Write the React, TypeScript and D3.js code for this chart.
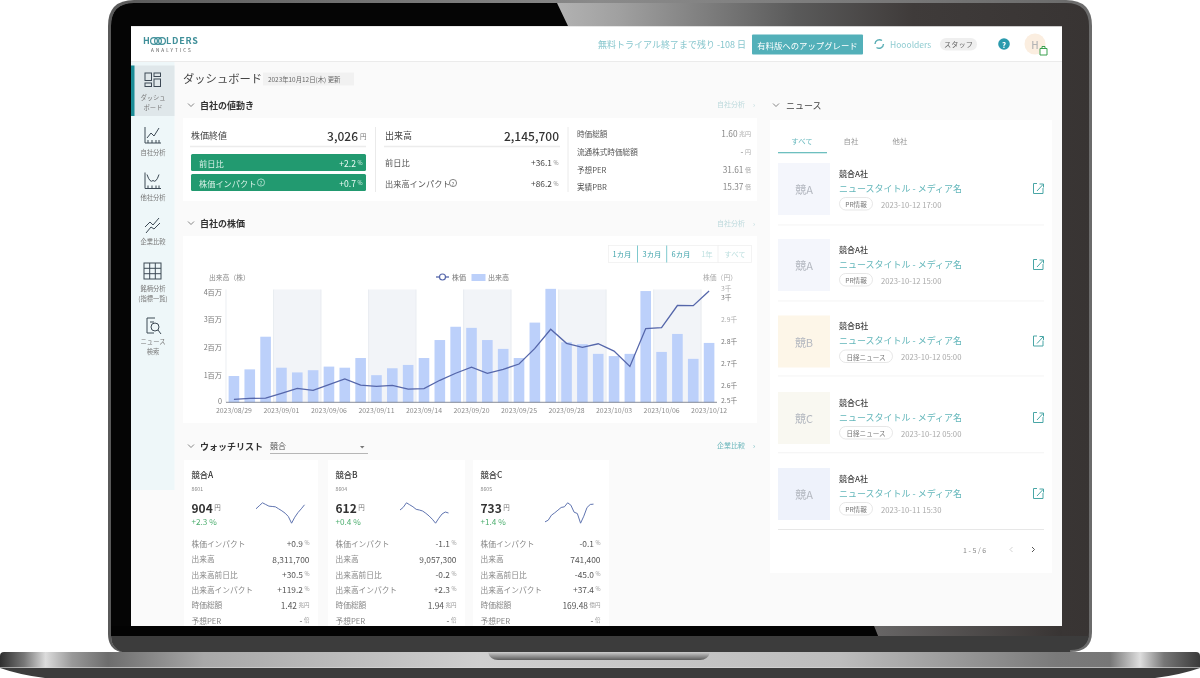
import React from "react";
import * as d3 from "d3";

const FONT = "'Noto Sans CJK JP','Noto Sans',sans-serif";

const dates = ["2023/08/29","2023/08/30","2023/08/31","2023/09/01","2023/09/04","2023/09/05","2023/09/06","2023/09/07","2023/09/08","2023/09/11","2023/09/12","2023/09/13","2023/09/14","2023/09/15","2023/09/19","2023/09/20","2023/09/21","2023/09/22","2023/09/25","2023/09/26","2023/09/27","2023/09/28","2023/09/29","2023/10/02","2023/10/03","2023/10/04","2023/10/05","2023/10/06","2023/10/10","2023/10/11","2023/10/12"];
const volumeM = [0.95,1.19,2.37,1.25,1.08,1.16,1.29,1.25,1.6,0.98,1.23,1.35,1.6,2.25,2.73,2.69,2.25,1.93,1.6,2.88,4.1,2.17,2.1,1.75,1.67,1.75,4.02,1.82,2.47,1.57,2.1457];
const priceK = [2.533,2.538,2.539,2.561,2.583,2.574,2.6,2.626,2.598,2.592,2.597,2.58,2.582,2.62,2.652,2.68,2.652,2.67,2.694,2.765,2.852,2.788,2.77,2.786,2.753,2.683,2.855,2.859,2.96,2.959,3.026];
const leftTicks = [0,1,2,3,4];
const leftTickLabels = ["0","1百万","2百万","3百万","4百万"];
const rightTicks = [2.52,2.6,2.7,2.8,2.9,3.0,3.035];
const rightTickLabels = ["2.5千","2.6千","2.7千","2.8千","2.9千","3千","3千"];
const rangeButtons = ["1カ月","3カ月","6カ月","1年","すべて"];

const quoteRows = [["時価総額","1.60","兆円"],["流通株式時価総額","-","円"],["予想PER","31.61","倍"],["実績PBR","15.37","倍"]];
const navItems = [["ダッシュ","ボード"],["自社分析"],["他社分析"],["企業比較"],["銘柄分析","(指標一覧)"],["ニュース","検索"]];

const cardNames = ["競合A","競合B","競合C"];
const cardCodes = ["8601","8604","8605"];
const cardPrices = ["904","612","733"];
const cardChanges = ["+2.3 %","+0.4 %","+1.4 %"];
const rowLabels = ["株価インパクト","出来高","出来高前日比","出来高インパクト","時価総額","予想PER"];
const cardRowsA = ["+0.9 %","8,311,700","+30.5 %","+119.2 %","1.42 兆円","- 倍"];
const cardRowsB = ["-1.1 %","9,057,300","-0.2 %","+2.3 %","1.94 兆円","- 倍"];
const cardRowsC = ["-0.1 %","741,400","-45.0 %","+37.4 %","169.48 億円","- 倍"];
const sparkA = [898,902.5,907,904.5,902,901.5,901,898,895,891.5,886.5,876.5,885.5,892.5,898,904];
const sparkB = [615,617.7,622.3,620.3,618.3,615.7,615,614,611.7,609,605.7,601.7,606.7,611,613,612];
const sparkC = [711.8,713.8,719.8,722.6,725.8,729,729.8,734.6,731.8,723.4,721.8,710.2,718.6,729,732.6,733];

const newsCompany = ["競合A社","競合A社","競合B社","競合C社","競合A社"];
const newsThumb = ["競A","競A","競B","競C","競A"];
const newsThumbFill = ["#f4f6fc","#f4f6fc","#fdf6e8","#f9f8f1","#eef2fb"];
const newsTag = ["PR情報","PR情報","日経ニュース","日経ニュース","PR情報"];
const newsDate = ["2023-10-12 17:00","2023-10-12 15:00","2023-10-12 05:00","2023-10-12 05:00","2023-10-11 15:30"];

const T = ({ x, y, s = 8, c = "#555", a = "start", w = 400, ls = 0, children }: any) => (
  <text x={x} y={y} fontSize={s} fill={c} textAnchor={a} fontWeight={w} letterSpacing={ls} dominantBaseline="central" fontFamily={FONT}>{children}</text>
);

const Chevron = ({ x, y }: any) => <path d={`M${x - 3} ${y - 1.5}L${x} ${y + 1.5}L${x + 3} ${y - 1.5}`} fill="none" stroke="#777" strokeWidth={0.9} />;
const HelpMark = ({ x, y, c }: any) => (
  <g><circle cx={x} cy={y} r={3.6} fill="none" stroke={c} strokeWidth={0.7} /><T x={x} y={y} s={5} c={c} a="middle">?</T></g>
);
const MoreLink = ({ y, c, children }: any) => (
  <g><T x={745} y={y} s={7} c={c} a="end">{children}</T><T x={755} y={y} s={7} c={c} a="end">›</T></g>
);

function StockChart() {
  const x = d3.scaleBand<string>().domain(dates).range([226, 717]).paddingInner(0.33).paddingOuter(0.165);
  const edge = (i: number) => 226 + i * (491 / dates.length);
  const yV = d3.scaleLinear().domain([0, 4.04]).range([402.3, 290.5]);
  const yP = d3.scaleLinear().domain([2.52, 3.0]).range([402.3, 296.7]);
  const cx = (d: string) => (x(d) as number) + x.bandwidth() / 2;
  const line = d3.line<number>().x((_, i) => cx(dates[i])).y((d) => yP(d));
  const labelIdx = d3.range(0, dates.length, 3);
  return (
    <g>
      {labelIdx.filter((i) => i % 6 === 3 && i < 30).map((i) => (
        <rect key={i} x={edge(i)} y={289.5} width={edge(i + 3) - edge(i)} height={112.8} fill="#f2f4f8" />
      ))}
      {labelIdx.map((i) => <line key={i} x1={edge(i)} x2={edge(i)} y1={289.5} y2={402.3} stroke="#e2e6ec" strokeWidth={0.7} />)}
      {dates.map((d, i) => (
        <rect key={d} x={x(d)} y={Math.max(288.8, yV(volumeM[i]))} width={x.bandwidth()} height={402.3 - Math.max(288.8, yV(volumeM[i]))} fill="#bcd0fa" />
      ))}
      <path d={line(priceK) as string} fill="none" stroke="#5566aa" strokeWidth={1.3} />
      <line x1={226} x2={717} y1={402.3} y2={402.3} stroke="#6b7280" strokeWidth={0.8} />
      {labelIdx.map((i) => <T key={i} x={cx(dates[i])} y={410} s={6.9} c="#8a8a8a" a="middle">{dates[i]}</T>)}
      {leftTicks.map((t, i) => <T key={t} x={222} y={i === 0 ? 401 : yV(t)} s={7.2} c="#777" a="end">{leftTickLabels[i]}</T>)}
      {rightTicks.map((t, i) => <T key={t} x={721} y={i === 0 ? 399.8 : i === 6 ? 287.8 : yP(t)} s={6.8} c={i === 6 || i === 4 ? "#aaa" : "#777"}>{rightTickLabels[i]}</T>)}
      <T x={209} y={276.5} s={6.8} c="#888">出来高（株）</T>
      <T x={703} y={276.5} s={6.8} c="#aaa">株価（円）</T>
      <line x1={436} x2={449} y1={277} y2={277} stroke="#5566aa" strokeWidth={1.3} />
      <circle cx={442.5} cy={277} r={3} fill="#fff" stroke="#5566aa" strokeWidth={1.2} />
      <T x={452} y={277} s={7} c="#777">株価</T>
      <rect x={471.5} y={274} width={14} height={7} fill="#bcd0fa" />
      <T x={488} y={277} s={7} c="#777">出来高</T>
    </g>
  );
}

function Spark({ data, x0, x1 }: any) {
  const x = d3.scaleLinear().domain([0, data.length - 1]).range([x0, x1]);
  const [lo, hi] = d3.extent(data as number[]) as [number, number];
  const y = d3.scaleLinear().domain([lo, hi]).range([523.2, 502.8]);
  const l = d3.line<number>().x((_, i) => x(i)).y((d) => y(d));
  return <path d={l(data) as string} fill="none" stroke="#5f74b0" strokeWidth={1} />;
}

function WatchCard({ i, x0, x1, rows, spark }: any) {
  const tx = x0 + 7.5;
  const rx = x1 - 8.5;
  const rowYs = [543, 558.5, 574, 589, 604.7, 620];
  const sx = x0 + 72;
  return (
    <g>
      <rect x={x0} y={460} width={x1 - x0} height={166} fill="#fff" />
      <T x={tx} y={474} s={8.3} c="#333" w={500}>{cardNames[i]}</T>
      <T x={tx} y={488} s={5.2} c="#888">{cardCodes[i]}</T>
      <text x={tx} y={507} dominantBaseline="central" fontFamily={FONT}>
        <tspan fontSize={12} fontWeight={600} fill="#333">{cardPrices[i]}</tspan>
        <tspan fontSize={6.5} fill="#777" dx={1.5}>円</tspan>
      </text>
      <T x={tx} y={521} s={8.2} c="#4cae6e">{cardChanges[i]}</T>
      <Spark data={spark} x0={sx} x1={sx + 48.5} />
      {rowLabels.map((lab, k) => <T key={lab} x={tx} y={rowYs[k]} s={7.7} c="#888">{lab}</T>)}
      {rows.map((v: string, k: number) => {
        const p = v.split(" ");
        return (
          <text key={k} x={rx} y={rowYs[k]} textAnchor="end" dominantBaseline="central" fontFamily={FONT}>
            <tspan fontSize={8.4} fill="#555">{p[0]}</tspan>
            {p[1] ? <tspan fontSize={5.5} fill="#999" dx={1.5}>{p[1]}</tspan> : null}
          </text>
        );
      })}
    </g>
  );
}

function NavIcon({ i, cy }: any) {
  const st = { fill: "none", stroke: "#3d4a55", strokeWidth: 1 };
  const x = 145;
  if (i === 0) return <g {...st}><rect x={145} y={cy - 7} width={6.5} height={7.5} /><rect x={154} y={cy - 7} width={6.5} height={3.5} /><rect x={145} y={cy + 3} width={6.5} height={3.5} /><rect x={154} y={cy - 1} width={6.5} height={7.5} /></g>;
  if (i === 4) return <g {...st}><rect x={144} y={cy - 8} width={17} height={16} />{[-2.7, 2.7].map((d) => <line key={d} x1={144} x2={161} y1={cy + d} y2={cy + d} />)}{[149.7, 155.3].map((d) => <line key={d} x1={d} x2={d} y1={cy - 8} y2={cy + 8} />)}</g>;
  if (i === 5) return <g {...st}><path d={`M${x + 10} ${cy - 8}H${x + 2}V${cy + 7}H${x + 9}`} /><circle cx={x + 10} cy={cy + 1} r={4} /><line x1={x + 13} y1={cy + 4} x2={x + 16} y2={cy + 8} /><line x1={x + 5} x2={x + 9} y1={cy - 4} y2={cy - 4} /></g>;
  if (i === 3) return <g {...st}><path d={`M${x} ${cy + 2}L${x + 5} ${cy - 3}L${x + 8} ${cy}L${x + 14} ${cy - 7}`} /><path d={`M${x + 1} ${cy + 8}L${x + 6} ${cy + 2}L${x + 9} ${cy + 4}L${x + 15} ${cy - 2}`} /></g>;
  return (
    <g {...st}>
      <path d={`M${x} ${cy - 8}V${cy + 8}H${x + 16}`} />
      {[3, 7, 11, 14].map((d) => <line key={d} x1={x + d} x2={x + d} y1={cy + 5} y2={cy + 8} />)}
      {i === 1 ? <path d={`M${x + 2} ${cy + 3}L${x + 6} ${cy - 2}L${x + 9} ${cy + 1}L${x + 14} ${cy - 7}`} /> : <path d={`M${x + 2} ${cy - 6}Q${x + 5} ${cy + 3} ${x + 8} ${cy}Q${x + 11} ${cy + 3} ${x + 14} ${cy - 6}`} />}
    </g>
  );
}

function NewsItem({ i, top }: any) {
  const tagW = newsTag[i].length > 4 ? 53 : 33;
  return (
    <g>
      <rect x={778} y={top} width={52} height={52} fill={newsThumbFill[i]} />
      <T x={804} y={top + 26} s={11} c="#b4b8c0" a="middle">{newsThumb[i]}</T>
      <T x={839} y={top + 10} s={8} c="#444" w={500}>{newsCompany[i]}</T>
      <T x={839} y={top + 25} s={9} c="#62b6ba">ニュースタイトル - メディア名</T>
      <rect x={839.5} y={top + 34.5} width={tagW} height={12.5} rx={6.2} fill="#fff" stroke="#ddd" strokeWidth={0.7} />
      <T x={839.5 + tagW / 2} y={top + 41} s={6.6} c="#777" a="middle">{newsTag[i]}</T>
      <T x={839.5 + tagW + 8.5} y={top + 41} s={7.7} c="#aaa">{newsDate[i]}</T>
      <g fill="none" stroke="#4aa6a6" strokeWidth={1}>
        <path d={`M1037 ${top + 20.5}H1033.5V${top + 30.5}H1043V${top + 25}`} />
        <path d={`M1037 ${top + 28}L1043 ${top + 21.5}M1039.5 ${top + 21}H1043.5V${top + 24.5}`} />
      </g>
    </g>
  );
}

export default function App() {
  const newsTops = [163, 239, 315.5, 392, 468];
  const btnCenters = [622, 652, 681, 707, 735];
  return (
    <svg width={1200} height={678} viewBox="0 0 1200 678" style={{ position: "fixed", left: 0, top: 0, background: "#fff" }}>
      <defs>
        <linearGradient id="bezel" x1="0" x2="1" y1="0" y2="0">
          <stop offset="0.45" stopColor="#b4b4b4" />
          <stop offset="0.52" stopColor="#a0a0a0" />
          <stop offset="0.7" stopColor="#5a5a5a" />
          <stop offset="0.82" stopColor="#3f3b3a" />
          <stop offset="1" stopColor="#383433" />
        </linearGradient>
        <linearGradient id="base" x1="0" x2="1" y1="0" y2="0">
          <stop offset="0" stopColor="#2e2e2e" />
          <stop offset="0.02" stopColor="#777" />
          <stop offset="0.038" stopColor="#dcdcdc" />
          <stop offset="0.06" stopColor="#999" />
          <stop offset="0.09" stopColor="#6d6d6d" />
          <stop offset="0.17" stopColor="#a8a8a8" />
          <stop offset="0.4" stopColor="#cfcfcf" />
          <stop offset="0.7" stopColor="#bdbdbd" />
          <stop offset="0.88" stopColor="#7a7a7a" />
          <stop offset="0.925" stopColor="#777" />
          <stop offset="0.95" stopColor="#dedede" />
          <stop offset="0.97" stopColor="#777" />
          <stop offset="1" stopColor="#3a3a3a" />
        </linearGradient>
        <linearGradient id="notch" x1="0" x2="0" y1="0" y2="1">
          <stop offset="0" stopColor="#c8c8c8" />
          <stop offset="1" stopColor="#5c5c5c" />
        </linearGradient>
        <linearGradient id="rim" x1="0" x2="1" y1="0" y2="0">
          <stop offset="0" stopColor="#5a5a5a" />
          <stop offset="0.5" stopColor="#8a8a8a" />
          <stop offset="1" stopColor="#6b6b6b" />
        </linearGradient>
        <linearGradient id="botRight" x1="0" x2="1" y1="0" y2="0">
          <stop offset="0" stopColor="#686666" />
          <stop offset="1" stopColor="#383433" />
        </linearGradient>
        <filter id="soft" x="0" y="0" width="1" height="1"><feGaussianBlur stdDeviation="0.3" /></filter>
      </defs>

      {/* laptop lid */}
      <path d="M120 652Q108 648 108 634V26Q108 0 134 0H1066Q1092 0 1092 26V632Q1092 652 1070 652Z" fill="url(#rim)" />
      <path d="M111 636V26Q111 3 134 3H1066Q1089 3 1089 26V632Q1089 649 1070 649V652H122Q111 648 111 636Z" fill="url(#bezel)" />
      <path d="M111 636V26Q111 3 134 3H557L568 26H131V636Z" fill="#050505" />
      <path d="M874 626L878 636H1062V626Z" fill="url(#botRight)" />
      <path d="M111 636H1089V632Q1089 650 1070 650V652H122Q111 648 111 636Z" fill="#3c3c3c" />
      <path d="M111 626H874L878 636H111Z" fill="#030303" />

      {/* laptop base */}
      <path d="M4 652H1196Q1200 652 1200 656V668H0V656Q0 652 4 652Z" fill="url(#base)" />
      <path d="M0 668H1200Q1180 675 1155 678H45Q20 675 0 668Z" fill="#3c3c3c" />
      <rect x={0} y={667} width={1200} height={1} fill="#dcdcdc" opacity={0.6} />
      <path d="M488 652.3H710Q708 660 700 660H498Q490 660 488 652.3Z" fill="url(#notch)" />

      {/* screen */}
      <g filter="url(#soft)">
        <rect x={131} y={26.5} width={931} height={599.5} fill="#fafafa" />
        <rect x={131} y={26.5} width={931} height={35} fill="#fff" />
        <line x1={131} x2={1062} y1={61.5} y2={61.5} stroke="#e6e6e6" strokeWidth={0.8} />

        {/* header */}
        <T x={143} y={40.5} s={9} c="#3f8f99" w={600}>H</T>
        <g fill="none" stroke="#3f8f99" strokeWidth={1.2}>
          {[154, 158, 162].map((c) => <circle key={c} cx={c} cy={41} r={3.4} />)}
        </g>
        <T x={166} y={40.5} s={9} c="#3f8f99" w={600} ls={0.8}>LDERS</T>
        <T x={151} y={49.5} s={4.6} c="#555" ls={2.1}>ANALYTICS</T>
        <T x={598} y={44} s={9} c="#86c6cd">無料トライアル終了まで残り -108 日</T>
        <rect x={752} y={34.5} width={111} height={20} fill="#52b0b9" rx={1} />
        <T x={807.5} y={44.5} s={8.4} c="#fff" a="middle">有料版へのアップグレード</T>
        <g fill="none" stroke="#5aaeb5" strokeWidth={1.4}>
          <path d="M875 44A4.5 4.5 0 0 1 882 40.5" />
          <path d="M883.5 44A4.5 4.5 0 0 1 876.5 47.5" />
        </g>
        <T x={890} y={44} s={8.5} c="#8ecbd0">Hooolders</T>
        <rect x={940} y={38} width={37} height={12.5} rx={6.2} fill="#efefef" />
        <T x={958.5} y={44} s={7.2} c="#666" a="middle">スタッフ</T>
        <circle cx={1004} cy={44} r={5.8} fill="#2b9aad" />
        <T x={1004} y={44} s={8} c="#fff" a="middle" w={700}>?</T>
        <circle cx={1035} cy={44} r={10.5} fill="#fbeee0" />
        <T x={1035} y={44} s={10} c="#b5b5b5" a="middle" w={500}>H</T>
        <path d="M1040 48.5H1047V55H1040Z M1042 48.5V46.5H1045V48.5" fill="#fff" stroke="#3aa04e" strokeWidth={1} />

        {/* sidebar */}
        <rect x={131} y={62} width={43.5} height={428} fill="#eef7f9" />
        <rect x={131} y={65.5} width={43.5} height={50.5} fill="#dfe7ea" />
        <rect x={131} y={65.5} width={3.5} height={50.5} fill="#1f8d97" />
        {navItems.map((lines, i) => {
          const iconY = [80, 135, 180.5, 225, 271, 326][i];
          const labY = [97.5, 152, 197, 241, 288, 341][i];
          return (
            <g key={i}>
              <NavIcon i={i} cy={iconY} />
              {lines.map((t, k) => <T key={t} x={153} y={labY + k * 10} s={6.3} c="#777" a="middle">{t}</T>)}
            </g>
          );
        })}

        {/* title */}
        <T x={183} y={78} s={11.3} c="#444">ダッシュボード</T>
        <rect x={263} y={72.5} width={91} height={13} fill="#f1f1f1" />
        <T x={268} y={79} s={6.4} c="#666">2023年10月12日(木) 更新</T>

        {/* summary */}
        <Chevron x={191} y={105} />
        <T x={200} y={105} s={9} c="#333" w={700}>自社の値動き</T>
        <MoreLink y={104} c="#bcd9dc">自社分析</MoreLink>
        <rect x={183} y={118} width={574} height={83} fill="#fff" />
        <T x={191} y={135} s={9} c="#444">株価終値</T>
        <T x={358} y={135} s={12} c="#333" a="end" w={500}>3,026</T>
        <T x={360} y={135.5} s={6.5} c="#777">円</T>
        <line x1={190} x2={366} y1={146.5} y2={146.5} stroke="#ececec" strokeWidth={1.4} />
        <rect x={191} y={154} width={175} height={17} rx={1.5} fill="#219a70" />
        <rect x={191} y={174} width={175} height={17} rx={1.5} fill="#219a70" />
        <T x={199} y={162.5} s={8.2} c="#d8f0e6">前日比</T>
        <T x={199} y={182.5} s={8.2} c="#d8f0e6">株価インパクト</T>
        <HelpMark x={261} y={182.5} c="#d8f0e6" />
        <T x={356} y={162.5} s={8.6} c="#eafaf4" a="end">+2.2</T>
        <T x={360} y={163} s={5.5} c="#d8f0e6" a="middle">%</T>
        <T x={356} y={182.5} s={8.6} c="#eafaf4" a="end">+0.7</T>
        <T x={360} y={183} s={5.5} c="#d8f0e6" a="middle">%</T>
        <line x1={375.5} x2={375.5} y1={127} y2={192} stroke="#e5e5e5" strokeWidth={0.8} />
        <line x1={568} x2={568} y1={127} y2={192} stroke="#e5e5e5" strokeWidth={0.8} />
        <T x={385} y={135} s={9} c="#444">出来高</T>
        <T x={559} y={135} s={12} c="#333" a="end" w={500}>2,145,700</T>
        <line x1={384} x2={560} y1={146.5} y2={146.5} stroke="#ececec" strokeWidth={1.4} />
        <T x={385} y={162} s={8.2} c="#555">前日比</T>
        <T x={385} y={183} s={8.2} c="#555">出来高インパクト</T>
        <HelpMark x={453} y={183} c="#555" />
        <T x={552} y={162} s={8.4} c="#444" a="end">+36.1</T>
        <T x={556} y={162.5} s={5.5} c="#888" a="middle">%</T>
        <T x={552} y={183} s={8.4} c="#444" a="end">+86.2</T>
        <T x={556} y={183.5} s={5.5} c="#888" a="middle">%</T>
        {quoteRows.map((r, i) => {
          const y = [133, 151, 169, 186][i];
          return (
            <g key={r[0]}>
              <T x={577} y={y} s={7.6} c="#555">{r[0]}</T>
              <text x={751} y={y} textAnchor="end" dominantBaseline="central" fontFamily={FONT}>
                <tspan fontSize={8.3} fill="#888">{r[1]}</tspan>
                <tspan fontSize={6} fill="#aaa" dx={1.5}>{r[2]}</tspan>
              </text>
            </g>
          );
        })}

        {/* price section */}
        <Chevron x={191} y={223} />
        <T x={200} y={223} s={9} c="#333" w={700}>自社の株価</T>
        <MoreLink y={223} c="#bcd9dc">自社分析</MoreLink>
        <rect x={183} y={236} width={574} height={187} fill="#fff" />
        <rect x={608.5} y={245.5} width={143} height={17} fill="#fff" stroke="#f0f0f0" strokeWidth={0.8} />
        {[637.5, 666.7].map((d) => <line key={d} x1={d} x2={d} y1={245.5} y2={262.5} stroke="#6fc3c8" strokeWidth={0.9} />)}
        <line x1={718} x2={718} y1={245.5} y2={262.5} stroke="#eee" strokeWidth={0.8} />
        {rangeButtons.map((b, i) => <T key={b} x={btnCenters[i]} y={253.5} s={7.4} c={i < 3 ? "#3ea2aa" : "#bfe0e0"} a="middle">{b}</T>)}
        <StockChart />

        {/* watchlist */}
        <Chevron x={191} y={446} />
        <T x={200} y={446} s={9} c="#333" w={700}>ウォッチリスト</T>
        <T x={270} y={445} s={8} c="#555">競合</T>
        <line x1={270} x2={368} y1={453.5} y2={453.5} stroke="#888" strokeWidth={0.6} />
        <path d="M360 446H364.5L362.2 448.5Z" fill="#777" />
        <MoreLink y={445} c="#6fb8bd">企業比較</MoreLink>
        <WatchCard i={0} x0={184} x1={318} rows={cardRowsA} spark={sparkA} />
        <WatchCard i={1} x0={328} x1={465} rows={cardRowsB} spark={sparkB} />
        <WatchCard i={2} x0={473} x1={609} rows={cardRowsC} spark={sparkC} />

        {/* news */}
        <Chevron x={776} y={105} />
        <T x={786} y={105} s={9} c="#444">ニュース</T>
        <rect x={770} y={120} width={282} height={453} fill="#fff" />
        <T x={802} y={140} s={7.4} c="#6bbabf" a="middle">すべて</T>
        <T x={851} y={140} s={7.4} c="#999" a="middle">自社</T>
        <T x={900} y={140} s={7.4} c="#999" a="middle">他社</T>
        <rect x={778} y={152} width={49} height={1.3} fill="#6dbfbf" />
        {newsTops.map((t, i) => <NewsItem key={i} i={i} top={t} />)}
        {[225, 301, 376, 452.7, 529.5].map((y, i) => <line key={y} x1={778} x2={1044} y1={y} y2={y} stroke={i === 4 ? "#ddd" : "#efefef"} strokeWidth={0.7} />)}
        <T x={963} y={549.5} s={7} c="#888">1 - 5 / 6</T>
        <path d="M1012.5 547L1010 549.5L1012.5 552" fill="none" stroke="#ccc" strokeWidth={0.9} />
        <path d="M1032 547L1034.5 549.5L1032 552" fill="none" stroke="#555" strokeWidth={1} />
      </g>
    </svg>
  );
}
